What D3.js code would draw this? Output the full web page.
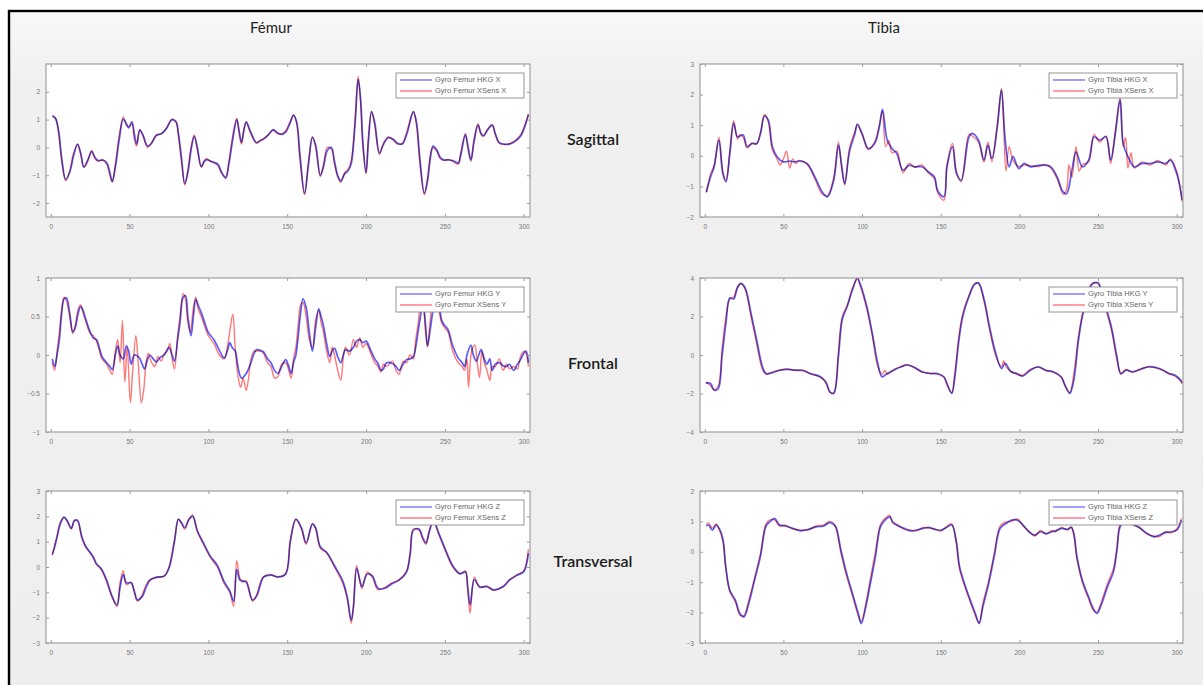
<!DOCTYPE html>
<html>
<head>
<meta charset="utf-8">
<script src="https://cdn.jsdelivr.net/npm/d3@7"></script>
<style>
  html, body { margin: 0; padding: 0; background: #ffffff; }
  svg { display: block; }
</style>
</head>
<body>
<svg id="fig" width="1203" height="685"></svg>
<script>
// ---- Gyroscope angular velocity, HKG sensor vs XSens, by segment and plane ----
// Each series is a list of [sample, value] pairs.

const segments = ["Fémur", "Tibia"];
const planes = ["Sagittal", "Frontal", "Transversal"];
const axesNames = ["X", "Y", "Z"];
const sampleTicks = [0, 50, 100, 150, 200, 250, 300];
const sampleDomain = [-3, 304];

const femurDomains = [[-2.5, 3], [-1, 1], [-3, 3]];
const femurTicks = [[-2, -1, 0, 1, 2], [-1, -0.5, 0, 0.5, 1], [-3, -2, -1, 0, 1, 2, 3]];
const tibiaDomains = [[-2, 3], [-4, 4], [-3, 2]];
const tibiaTicks = [[-2, -1, 0, 1, 2, 3], [-4, -2, 0, 2, 4], [-3, -2, -1, 0, 1, 2]];

const femurXHkg = [[1,1.15],[3,1.05],[5,0.6],[7,-0.4],[9.5,-1.15],[12,-0.9],[14.5,-0.3],[17,0.12],[19,-0.2],[21,-0.7],[23.5,-0.45],[26,-0.15],[28,-0.35],[30,-0.47],[33,-0.45],[35.5,-0.55],[37.5,-0.9],[39,-1.22],[41,-0.7],[43.5,0.3],[46,1.02],[48,0.85],[49.5,0.7],[51.5,0.92],[53,0.5],[54.5,0.12],[56.5,0.62],[58.5,0.45],[61.5,0.05],[64,0.15],[67,0.45],[70,0.48],[73,0.65],[77,1.0],[79.5,0.92],[81,0.5],[83,-0.4],[85,-1.3],[87,-0.9],[89,-0.1],[91,0.4],[93,0.0],[95.5,-0.68],[97.5,-0.5],[99,-0.44],[101,-0.48],[103.5,-0.53],[106,-0.6],[108.5,-0.9],[111,-1.1],[113,-0.6],[115.5,0.3],[118,1.0],[119.5,0.6],[121,0.18],[122.5,0.6],[124,0.92],[126.5,0.6],[130.5,0.18],[133,0.25],[135,0.3],[138,0.45],[141,0.64],[144,0.52],[146.5,0.47],[149,0.55],[152,0.9],[154,1.15],[156,0.92],[158,-0.2],[161,-1.65],[163.5,-0.6],[166,0.35],[168,0.1],[171,-1.0],[173,-0.7],[175.5,-0.1],[178,0.0],[180,-0.5],[182,-1.0],[184,-1.2],[186.5,-0.95],[188.5,-0.85],[190.5,-0.6],[193,0.8],[195,2.45],[196.5,1.8],[198,0.2],[200,-0.9],[201.5,0.2],[203.5,1.28],[205.5,0.9],[208.5,-0.2],[211,0.1],[214,0.35],[217,0.3],[220,0.15],[223,0.12],[226,0.5],[230,1.28],[232,0.9],[234,-0.3],[237,-1.65],[239,-1.2],[241,-0.3],[242.5,0.05],[245,-0.1],[247,-0.35],[249.5,-0.45],[252,-0.45],[255,-0.47],[258.5,-0.56],[260,-0.3],[263,0.45],[264.5,0.1],[266.5,-0.45],[268.5,0.2],[271,0.8],[273,0.5],[274.5,0.42],[277,0.62],[280,0.8],[282,0.5],[284.5,0.17],[288,0.12],[291,0.12],[294,0.2],[298,0.4],[301,0.8],[303,1.18]];
const femurXXsens = [[1,1.1],[3,1.05],[5,0.5],[7,-0.5],[9.5,-1.2],[12,-0.85],[14.5,-0.2],[17,0.1],[19,-0.25],[21,-0.72],[23.5,-0.5],[26,-0.1],[28,-0.4],[30,-0.5],[33,-0.45],[35.5,-0.6],[37.5,-1.0],[39,-1.25],[41,-0.6],[43.5,0.45],[46,1.1],[48,0.8],[49.5,0.75],[51.5,0.85],[53,0.3],[54.5,0.05],[56.5,0.65],[58.5,0.4],[61.5,0.0],[64,0.18],[67,0.42],[70,0.5],[73,0.66],[77,1.02],[79.5,0.9],[81,0.4],[83,-0.55],[85,-1.35],[87,-0.8],[89,0.0],[91,0.45],[93,-0.1],[95.5,-0.72],[97.5,-0.45],[99,-0.4],[101,-0.5],[103.5,-0.55],[106,-0.65],[108.5,-0.95],[111,-1.05],[113,-0.5],[115.5,0.45],[118,1.05],[119.5,0.5],[121,0.12],[122.5,0.65],[124,0.9],[126.5,0.55],[130.5,0.15],[133,0.25],[135,0.32],[138,0.45],[141,0.62],[144,0.5],[146.5,0.48],[149,0.6],[152,0.95],[154,1.18],[156,0.85],[158,-0.4],[161,-1.7],[163.5,-0.5],[166,0.4],[168,0.0],[171,-1.05],[173,-0.6],[175.5,0.0],[178,-0.05],[180,-0.6],[182,-1.05],[184,-1.25],[186.5,-0.9],[188.5,-0.8],[190.5,-0.5],[193,1.0],[195,2.55],[196.5,1.6],[198,0.0],[200,-0.95],[201.5,0.4],[203.5,1.3],[205.5,0.8],[208.5,-0.25],[211,0.15],[214,0.38],[217,0.28],[220,0.12],[223,0.15],[226,0.6],[230,1.3],[232,0.8],[234,-0.5],[237,-1.7],[239,-1.1],[241,-0.2],[242.5,0.0],[245,-0.15],[247,-0.4],[249.5,-0.47],[252,-0.43],[255,-0.5],[258.5,-0.6],[260,-0.2],[263,0.5],[264.5,0.0],[266.5,-0.5],[268.5,0.3],[271,0.85],[273,0.45],[274.5,0.4],[277,0.65],[280,0.82],[282,0.45],[284.5,0.15],[288,0.1],[291,0.14],[294,0.22],[298,0.45],[301,0.85],[303,1.2]];

const femurYHkg = [[1,-0.05],[2.5,-0.15],[4,0.0],[5.5,0.2],[7,0.55],[8.5,0.73],[10,0.74],[12,0.55],[14,0.3],[15.5,0.35],[17.5,0.55],[19,0.63],[20.5,0.58],[22,0.48],[25,0.3],[27,0.22],[29,0.2],[31,0.08],[32.5,-0.02],[35.5,-0.1],[37.5,-0.15],[39,-0.19],[41,0.0],[42.5,0.12],[44,0.0],[46,-0.05],[48,0.12],[49.5,0.05],[51,-0.12],[53,0.0],[56,-0.03],[58,-0.12],[59.5,-0.18],[61.5,-0.05],[63,0.0],[65,-0.05],[67,-0.09],[69.5,-0.03],[72,0.0],[75,0.1],[77,0.0],[78.5,-0.08],[80.5,0.2],[82,0.42],[84,0.75],[85.5,0.77],[87,0.5],[89,0.25],[90.5,0.5],[92,0.72],[93.5,0.65],[95.5,0.55],[98,0.4],[100,0.29],[103.5,0.2],[107,0.06],[110,-0.04],[112,0.05],[113.6,0.16],[115,0.1],[117,0.05],[119,-0.18],[121,-0.3],[124,-0.24],[127,-0.1],[129,0.02],[130.6,0.07],[133,0.06],[135,0.04],[137.5,-0.05],[139.7,-0.1],[142,-0.2],[144,-0.24],[146.5,-0.15],[149,-0.06],[151,-0.15],[152.5,-0.24],[154,-0.1],[155.5,0.0],[157,0.25],[158.5,0.55],[160,0.73],[162,0.62],[164,0.3],[166,0.05],[168,0.35],[170,0.6],[171.5,0.5],[173,0.38],[175,0.15],[177,-0.02],[178.5,0.05],[180,0.09],[182,-0.02],[184,-0.1],[185.5,0.0],[187,0.07],[189.5,0.05],[192,0.1],[194,0.18],[196,0.2],[198,0.16],[200,0.18],[203,0.06],[205.5,-0.05],[207.6,-0.11],[209.5,-0.2],[211,-0.18],[213,-0.1],[216.7,-0.11],[219,-0.15],[221,-0.2],[223.5,-0.12],[225.7,-0.06],[228,-0.05],[230,-0.02],[231.5,0.1],[233,0.3],[234.5,0.5],[236,0.7],[237.5,0.45],[239,0.12],[240.5,0.3],[242.7,0.6],[245,0.77],[246.5,0.65],[248,0.45],[250,0.38],[252,0.33],[255,0.12],[258.5,-0.04],[261,-0.1],[262.5,-0.15],[264,0.0],[266.5,0.13],[268,0.0],[270,-0.08],[271.5,0.0],[273,0.07],[275,-0.05],[276.7,-0.12],[278.5,-0.05],[280,-0.2],[282,-0.12],[284.6,-0.1],[287,-0.14],[289,-0.15],[291,-0.12],[293.6,-0.2],[296,-0.12],[298,-0.06],[300,0.02],[301.5,0.05],[303,-0.1]];
const femurYXsens = [[1,-0.1],[2.5,-0.2],[4,0.05],[5.5,0.3],[7,0.6],[8.5,0.75],[10,0.7],[12,0.5],[14,0.28],[15.5,0.38],[17.5,0.6],[19,0.65],[20.5,0.55],[22,0.45],[25,0.28],[27,0.25],[29,0.18],[31,0.05],[32.5,-0.05],[35.5,-0.12],[37.5,-0.2],[39,-0.25],[41,0.05],[42.5,0.2],[44,-0.1],[45.5,0.45],[47,-0.35],[48.5,0.1],[50.5,-0.62],[52,-0.2],[54,0.25],[55.5,-0.1],[57.5,-0.62],[59,-0.45],[60.5,-0.1],[62,0.02],[64,-0.1],[66,-0.15],[68,-0.02],[70,-0.08],[72,0.02],[74,0.05],[75.5,0.15],[77,-0.05],[78.5,-0.18],[80.5,0.25],[82,0.5],[84,0.8],[85.5,0.72],[87,0.42],[88.5,0.3],[90.5,0.62],[92,0.75],[93.5,0.6],[95.5,0.5],[98,0.35],[100,0.25],[103.5,0.15],[107,0.0],[110,-0.05],[112,0.1],[113.5,0.3],[115.5,0.53],[117,0.1],[119,-0.3],[120.5,-0.42],[122,-0.3],[124,-0.46],[125.5,-0.3],[127,-0.05],[129,0.05],[130.6,0.05],[133,0.05],[135,0.02],[137.5,-0.1],[139.7,-0.15],[142,-0.3],[144,-0.28],[146.5,-0.12],[149,-0.1],[151,-0.2],[152.5,-0.3],[154,-0.05],[155.5,0.1],[157,0.4],[158.5,0.65],[160,0.68],[162,0.5],[164,0.2],[166,0.1],[168,0.45],[170,0.58],[171.5,0.42],[173,0.3],[175,0.05],[177,-0.1],[178.5,0.1],[180,0.0],[182,-0.2],[184,-0.33],[185.5,-0.05],[187,0.1],[189.5,0.0],[192,0.2],[194,0.1],[196,0.22],[198,0.1],[200,0.15],[203,0.02],[205.5,-0.1],[207.6,-0.15],[209.5,-0.22],[211,-0.12],[213,-0.15],[216.7,-0.08],[219,-0.2],[221,-0.25],[223.5,-0.08],[225.7,-0.1],[228,0.0],[230,-0.05],[231.5,0.2],[233,0.4],[234.5,0.62],[236,0.65],[237.5,0.35],[239,0.1],[240.5,0.4],[242.7,0.7],[245,0.72],[246.5,0.55],[248,0.42],[250,0.35],[252,0.3],[255,0.05],[258.5,-0.1],[261,-0.15],[262.5,-0.2],[264,-0.05],[265,-0.42],[267,0.05],[269,0.13],[270.5,-0.1],[272,-0.29],[273.5,0.05],[275,-0.1],[276.7,-0.2],[278.5,-0.33],[280,-0.15],[282,-0.15],[284.6,-0.05],[287,-0.2],[289,-0.12],[291,-0.18],[293.6,-0.15],[296,-0.18],[298,-0.02],[300,0.05],[301.5,0.02],[303,-0.15]];

const femurZHkg = [[1,0.5],[2.5,0.8],[4,1.17],[6,1.69],[8.4,1.97],[10.6,1.82],[13,1.53],[15,1.82],[17,1.85],[19.7,1.2],[22,0.84],[25,0.58],[27,0.4],[29,0.13],[32,-0.06],[35.5,-0.52],[39,-1.17],[42,-1.5],[44,-0.8],[46,-0.3],[48,-0.62],[51,-0.62],[53,-0.95],[55,-1.3],[58,-1.17],[60.5,-0.8],[63,-0.52],[67,-0.4],[72,-0.36],[75,-0.05],[78.5,1.0],[81,1.88],[83,1.75],[85,1.55],[87.6,1.88],[90,2.0],[93,1.43],[96.7,0.97],[101,0.45],[105.7,0.06],[110,-0.58],[113.6,-0.95],[116,-1.35],[118,-0.1],[120,-0.52],[122,-0.55],[124,-0.6],[128,-1.3],[130.6,-1.15],[133,-0.7],[135,-0.4],[139.7,-0.32],[144,-0.39],[149,-0.28],[152,1.0],[155.5,1.88],[159,1.55],[162,0.95],[166,1.69],[168,1.55],[171,0.8],[175,0.58],[180,0.05],[185,-0.52],[188,-1.15],[190.6,-2.1],[192,-1.6],[194,-0.05],[196,-0.5],[197.4,-0.78],[200.8,-0.28],[204,-0.35],[207.6,-0.84],[212,-0.84],[216.7,-0.65],[221,-0.52],[225.7,-0.2],[228,0.5],[230,1.45],[233.6,1.5],[236,1.15],[238,0.95],[240,1.36],[242.7,1.82],[246,1.36],[250.6,0.65],[255,0.05],[259.7,-0.26],[263,-0.2],[264.5,-0.8],[266,-1.5],[268.7,-0.5],[272,-0.78],[276.7,-0.78],[281,-0.9],[287,-0.78],[291,-0.52],[296,-0.32],[300,-0.19],[303,0.55]];
const femurZXsens = [[1,0.45],[2.5,0.85],[4,1.25],[6,1.75],[8.4,1.95],[10.6,1.78],[13,1.5],[15,1.85],[17,1.8],[19.7,1.15],[22,0.8],[25,0.55],[27,0.35],[29,0.1],[32,-0.1],[35.5,-0.6],[39,-1.2],[42,-1.56],[44,-0.6],[46,-0.15],[48,-0.7],[51,-0.6],[53,-1.0],[55,-1.35],[58,-1.1],[60.5,-0.7],[63,-0.5],[67,-0.42],[72,-0.35],[75,0.0],[78.5,1.1],[81,1.9],[83,1.7],[85,1.5],[87.6,1.85],[90,2.05],[93,1.4],[96.7,0.92],[101,0.4],[105.7,0.0],[110,-0.65],[113.6,-1.0],[116,-1.55],[118,0.25],[120,-0.45],[122,-0.6],[124,-0.55],[128,-1.35],[130.6,-1.1],[133,-0.6],[135,-0.38],[139.7,-0.3],[144,-0.4],[149,-0.25],[152,1.1],[155.5,1.9],[159,1.5],[162,0.9],[166,1.72],[168,1.5],[171,0.75],[175,0.55],[180,0.0],[185,-0.6],[188,-1.25],[190.6,-2.22],[192,-1.5],[194,0.05],[196,-0.55],[197.4,-0.85],[200.8,-0.2],[204,-0.4],[207.6,-0.9],[212,-0.8],[216.7,-0.62],[221,-0.5],[225.7,-0.15],[228,0.6],[230,1.5],[233.6,1.45],[236,1.1],[238,0.9],[240,1.4],[242.7,1.85],[246,1.3],[250.6,0.6],[255,0.0],[259.7,-0.28],[263,-0.15],[264.5,-0.9],[266,-1.82],[268.7,-0.4],[272,-0.8],[276.7,-0.75],[281,-0.92],[287,-0.75],[291,-0.5],[296,-0.3],[300,-0.15],[303,0.7]];

const tibiaXHkg = [[1,-1.18],[3.7,-0.69],[6,-0.36],[9,0.51],[11.5,-0.58],[13.5,-0.85],[16,0.08],[18.4,1.06],[20.8,0.62],[22.5,0.65],[24.5,0.68],[27,0.3],[30,0.4],[33,0.4],[35.5,0.73],[38,1.3],[40.4,1.17],[43,0.3],[46,-0.03],[50,-0.2],[54,-0.17],[57,-0.2],[60,-0.17],[65,-0.25],[70,-0.69],[74.7,-1.18],[78,-1.34],[82,-0.8],[85,0.35],[87,-0.3],[89,-0.91],[92,0.13],[95.5,0.73],[97,1.04],[100,0.73],[104,0.24],[108,0.4],[111,0.95],[113,1.52],[116,0.51],[119,0.24],[122,0.08],[126,-0.47],[130,-0.31],[133.5,-0.36],[138,-0.36],[142,-0.52],[146,-0.69],[148,-1.13],[152,-1.34],[154,-0.36],[157.5,0.3],[160,-0.58],[163,-0.8],[168,0.62],[170,0.73],[174,0.51],[177.5,-0.14],[180,0.35],[182.5,-0.09],[186,0.95],[188.6,2.15],[191,0.51],[193.5,-0.36],[196,-0.03],[199.6,-0.42],[203,-0.25],[207,-0.36],[212,-0.31],[216.7,-0.31],[220,-0.36],[224,-0.69],[227.8,-1.18],[230,-1.24],[233.4,-0.47],[236,0.13],[240,-0.36],[244,-0.14],[247.5,0.62],[251,0.51],[255,0.62],[258,-0.14],[261,0.73],[264,1.83],[266,0.4],[269,-0.03],[273,-0.36],[278,-0.25],[283,-0.25],[288,-0.2],[293,-0.25],[296,-0.14],[300,-0.58],[303.5,-1.45]];
const tibiaXXsens = [[1,-1.2],[3.7,-0.6],[6,-0.3],[9,0.6],[11.5,-0.5],[13.5,-0.8],[16,0.2],[18.4,1.15],[20.8,0.55],[22.5,0.7],[24.5,0.6],[27,0.25],[30,0.42],[33,0.38],[35.5,0.8],[38,1.35],[40.4,1.1],[43,0.2],[46,-0.1],[48,-0.3],[50,-0.1],[52,0.15],[54,-0.4],[56,-0.1],[58,-0.25],[60,-0.15],[65,-0.28],[70,-0.75],[74.7,-1.25],[78,-1.3],[82,-0.7],[85,0.45],[87,-0.4],[89,-0.95],[92,0.25],[95.5,0.8],[97,1.0],[100,0.7],[104,0.2],[108,0.45],[111,1.0],[113,1.45],[115,0.3],[117,0.5],[119,0.1],[122,0.15],[124,-0.2],[126,-0.55],[130,-0.25],[133.5,-0.38],[138,-0.3],[142,-0.55],[146,-0.75],[148,-1.2],[152,-1.45],[154,-0.3],[157.5,0.4],[160,-0.5],[163,-0.85],[168,0.7],[170,0.65],[174,0.45],[177.5,-0.2],[180,0.45],[182.5,-0.2],[186,1.05],[188.6,2.2],[190,1.0],[191.5,-0.5],[193.5,0.3],[196,-0.15],[199.6,-0.35],[203,-0.3],[207,-0.32],[212,-0.35],[216.7,-0.28],[220,-0.4],[224,-0.75],[227.8,-1.25],[230,-1.1],[231.5,-0.3],[233.4,-0.7],[236,0.3],[238,-0.5],[240,-0.3],[244,-0.2],[247.5,0.7],[251,0.45],[255,0.65],[258,-0.25],[261,0.8],[264,1.9],[266,0.3],[267.5,0.6],[269,-0.4],[271,0.1],[273,-0.4],[278,-0.2],[283,-0.3],[288,-0.15],[293,-0.3],[296,-0.1],[300,-0.5],[303.5,-1.5]];

const tibiaYHkg = [[0.7,-1.45],[3.7,-1.48],[6,-1.83],[8.6,-1.75],[11,-0.09],[13.5,1.66],[16,2.97],[18.4,2.91],[20.8,3.49],[23,3.72],[25.7,3.49],[29.4,2.18],[33,0.79],[36.7,-0.61],[39,-0.96],[43,-0.92],[47.8,-0.79],[52.7,-0.75],[57.5,-0.79],[62.5,-0.79],[67,-0.96],[73.5,-1.13],[77,-1.4],[79.6,-1.92],[82,-2.0],[85,-0.09],[87.4,1.83],[90.6,2.53],[94,3.4],[97,4.0],[99,3.66],[103,2.53],[106.5,1.13],[110,-0.44],[112.7,-1.13],[116,-0.96],[121,-0.75],[125,-0.61],[128.6,-0.52],[133.5,-0.65],[138,-0.87],[143,-0.96],[148,-0.96],[152,-1.13],[154,-1.48],[157,-2.0],[159,-1.13],[161.6,0.79],[164,2.0],[168,3.05],[171.4,3.66],[174,3.75],[177.6,2.88],[181,1.48],[185,0.09],[188.6,-0.7],[191,-0.44],[194.7,-0.87],[198.4,-0.96],[202,-1.1],[207,-0.79],[212,-0.61],[216.7,-0.79],[221.6,-0.87],[226.5,-1.13],[229.5,-1.66],[232,-2.0],[234.4,-1.4],[237.6,0.79],[240,2.0],[242.5,2.79],[246,3.66],[250,3.75],[253.5,2.88],[258.4,1.48],[262,-0.09],[264.5,-0.96],[268,-0.79],[272,-0.87],[277,-0.75],[282,-0.61],[287,-0.65],[291.4,-0.79],[295,-0.96],[299,-1.05],[302.5,-1.31],[303.5,-1.45]];
const tibiaYXsens = [[0.7,-1.4],[3.7,-1.6],[6,-1.8],[8.6,-1.6],[11,0.3],[13.5,2.0],[16,2.9],[18.4,3.0],[20.8,3.55],[23,3.7],[25.7,3.4],[29.4,2.0],[33,0.6],[36.7,-0.75],[39,-1.0],[43,-0.88],[47.8,-0.78],[52.7,-0.72],[57.5,-0.8],[62.5,-0.82],[67,-0.98],[73.5,-1.15],[77,-1.45],[79.6,-1.95],[82,-1.95],[85,0.2],[87.4,2.0],[90.6,2.6],[94,3.5],[97,3.95],[99,3.55],[103,2.4],[106.5,1.0],[110,-0.6],[112.7,-1.0],[114.5,-0.8],[116,-1.0],[121,-0.72],[125,-0.6],[128.6,-0.5],[133.5,-0.68],[138,-0.88],[143,-0.95],[148,-1.0],[152,-1.15],[154,-1.55],[157,-1.95],[159,-0.9],[161.6,1.0],[164,2.15],[168,3.1],[171.4,3.7],[174,3.7],[177.6,2.75],[181,1.35],[185,-0.05],[188.6,-0.6],[190,-0.3],[191.5,-0.6],[194.7,-0.85],[198.4,-1.0],[202,-1.05],[207,-0.75],[212,-0.63],[216.7,-0.8],[221.6,-0.9],[226.5,-1.15],[229.5,-1.7],[232,-1.95],[234.4,-1.1],[237.6,1.0],[240,2.1],[242.5,2.85],[246,3.7],[250,3.7],[253.5,2.75],[258.4,1.35],[262,-0.25],[264.5,-1.0],[266,-0.85],[268,-0.75],[272,-0.9],[277,-0.72],[282,-0.62],[287,-0.68],[291.4,-0.8],[295,-0.98],[299,-1.1],[302.5,-1.35],[303.5,-1.5]];

const tibiaZHkg = [[1,0.85],[2.4,0.88],[4.9,0.71],[7.3,0.88],[9.8,0.71],[11.7,0.38],[13.4,-0.49],[15.9,-1.26],[19.5,-1.59],[22.4,-2.03],[24.9,-2.14],[28,-1.7],[31.7,-0.93],[35.4,-0.16],[39,0.85],[41.5,0.99],[44.4,1.1],[47.6,0.88],[51,0.85],[56,0.77],[61,0.69],[65.9,0.74],[70.7,0.82],[75.6,0.85],[79.3,0.96],[81.7,0.91],[83.4,0.82],[86.6,0.05],[90.2,-0.71],[93.9,-1.37],[97.6,-2.03],[99.5,-2.36],[102.4,-1.81],[104.9,-1.15],[108.5,-0.16],[111.7,0.82],[114.6,1.04],[117.6,1.15],[119.5,0.99],[123,0.85],[126.8,0.77],[130.5,0.69],[134,0.71],[139,0.77],[142.7,0.8],[146,0.74],[150,0.71],[153.6,0.8],[157,0.88],[159.8,0.38],[162,-0.49],[165.8,-1.15],[168.8,-1.59],[172,-2.03],[174.4,-2.36],[176.8,-1.81],[180.5,-1.04],[184,-0.16],[187.8,0.77],[191.5,0.93],[195,1.04],[198.8,1.04],[202.4,0.88],[206,0.66],[209.8,0.55],[213.4,0.66],[217,0.6],[220.7,0.66],[223,0.69],[226.8,0.77],[230.5,0.74],[233,0.8],[234.6,0.6],[236.6,-0.16],[240,-0.93],[244,-1.48],[247,-1.87],[249.3,-2.03],[252.4,-1.7],[256,-1.15],[259.8,-0.66],[262,0.05],[264,0.82],[267,1.0],[271,0.93],[276,0.8],[280.5,0.63],[285.4,0.49],[289,0.55],[292.7,0.63],[296.3,0.66],[300,0.71],[303,1.04]];
const tibiaZXsens = [[1,0.9],[2.4,0.95],[4.9,0.78],[7.3,0.92],[9.8,0.65],[11.7,0.3],[13.4,-0.55],[15.9,-1.3],[19.5,-1.65],[22.4,-2.08],[24.9,-2.1],[28,-1.6],[31.7,-0.85],[35.4,-0.05],[39,0.92],[41.5,1.05],[44.4,1.05],[47.6,0.85],[51,0.88],[56,0.75],[61,0.72],[65.9,0.72],[70.7,0.85],[75.6,0.88],[79.3,1.0],[81.7,0.95],[83.4,0.78],[86.6,-0.05],[90.2,-0.8],[93.9,-1.45],[97.6,-2.1],[99.5,-2.3],[102.4,-1.7],[104.9,-1.0],[108.5,0.0],[111.7,0.9],[114.6,1.1],[117.6,1.2],[119.5,0.95],[123,0.88],[126.8,0.74],[130.5,0.72],[134,0.68],[139,0.8],[142.7,0.78],[146,0.76],[150,0.68],[153.6,0.82],[157,0.92],[159.8,0.3],[162,-0.58],[165.8,-1.22],[168.8,-1.65],[172,-2.1],[174.4,-2.33],[176.8,-1.7],[180.5,-0.95],[184,-0.05],[187.8,0.85],[191.5,0.98],[195,1.0],[198.8,1.08],[202.4,0.85],[206,0.68],[209.8,0.52],[213.4,0.7],[217,0.58],[220.7,0.7],[223,0.66],[226.8,0.8],[230.5,0.72],[233,0.82],[234.6,0.55],[236.6,-0.25],[240,-1.0],[244,-1.55],[247,-1.92],[249.3,-1.98],[252.4,-1.6],[256,-1.05],[259.8,-0.55],[262,0.15],[264,0.9],[267,1.05],[271,0.9],[276,0.82],[280.5,0.6],[285.4,0.52],[289,0.5],[292.7,0.66],[296.3,0.62],[300,0.75],[303,1.1]];

// ---- Layout ----
const W = 1203, H = 685;
const colX = [[46, 530], [700, 1183]];
const rowY = [[64, 217], [278, 432], [491, 643]];
const blue = "#5c5cff";
const red = "#ff4a4a";

const femurSeries = [[femurXHkg, femurXXsens], [femurYHkg, femurYXsens], [femurZHkg, femurZXsens]];
const tibiaSeries = [[tibiaXHkg, tibiaXXsens], [tibiaYHkg, tibiaYXsens], [tibiaZHkg, tibiaZXsens]];
const legendSegment = ["Femur", "Tibia"];

const panels = [];
for (let r = 0; r < 3; r++) {
  panels.push({ col: 0, row: r, series: femurSeries[r], domain: femurDomains[r], ticks: femurTicks[r], seg: legendSegment[0], axis: axesNames[r] });
  panels.push({ col: 1, row: r, series: tibiaSeries[r], domain: tibiaDomains[r], ticks: tibiaTicks[r], seg: legendSegment[1], axis: axesNames[r] });
}

const svg = d3.select("#fig");

// figure background inside the black frame
svg.append("rect").attr("x", 0).attr("y", 0).attr("width", W).attr("height", H).attr("fill", "#ffffff");
const bgGrad = svg.append("defs").append("linearGradient").attr("id", "bgGrad")
  .attr("x1", 0).attr("y1", 0).attr("x2", 0).attr("y2", 1);
bgGrad.append("stop").attr("offset", "0%").attr("stop-color", "#f8f8f8");
bgGrad.append("stop").attr("offset", "10%").attr("stop-color", "#f0f0f0");
bgGrad.append("stop").attr("offset", "100%").attr("stop-color", "#eeeeee");
svg.append("rect").attr("x", 9).attr("y", 11).attr("width", W + 40).attr("height", H + 40)
  .attr("fill", "url(#bgGrad)").attr("stroke", "#000").attr("stroke-width", 2.4);

// column titles
const titleX = [271, 884];
segments.forEach((s, i) => {
  svg.append("text").attr("x", titleX[i]).attr("y", 33)
    .attr("text-anchor", "middle")
    .attr("font-family", "Lato, 'Open Sans', sans-serif")
    .attr("font-size", 15).attr("fill", "#222").text(s);
});

// plane labels between the columns
const planeY = [141, 365, 563];
planes.forEach((p, i) => {
  svg.append("text").attr("x", 593).attr("y", planeY[i])
    .attr("text-anchor", "middle").attr("dominant-baseline", "middle")
    .attr("font-family", "Lato, 'Open Sans', sans-serif")
    .attr("font-size", 16).attr("font-weight", 600).attr("fill", "#1a1a1a").text(p);
});

const defs = svg.select("defs");

panels.forEach((pn, idx) => {
  const [x0, x1] = colX[pn.col];
  const [y0, y1] = rowY[pn.row];
  const x = d3.scaleLinear().domain(sampleDomain).range([x0, x1]);
  const y = d3.scaleLinear().domain(pn.domain).range([y1, y0]);
  const g = svg.append("g");

  g.append("rect").attr("x", x0).attr("y", y0).attr("width", x1 - x0).attr("height", y1 - y0)
    .attr("fill", "#ffffff");

  const clipId = "clip" + idx;
  defs.append("clipPath").attr("id", clipId)
    .append("rect").attr("x", x0).attr("y", y0).attr("width", x1 - x0).attr("height", y1 - y0);

  const line = d3.line()
    .x(d => x(d[0])).y(d => y(d[1]))
    .curve(d3.curveCatmullRom.alpha(0.5));

  const plot = g.append("g").attr("clip-path", `url(#${clipId})`).style("isolation", "isolate");
  plot.append("path").datum(pn.series[0]).attr("d", line)
    .attr("fill", "none").attr("stroke", blue).attr("stroke-width", 1.7)
    .attr("stroke-linejoin", "round");
  plot.append("path").datum(pn.series[1]).attr("d", line)
    .attr("fill", "none").attr("stroke", red).attr("stroke-width", 1.4)
    .attr("stroke-linejoin", "round").style("mix-blend-mode", "multiply").attr("opacity", 0.75);

  // axes with inward ticks on all four sides
  const tickStyle = sel => {
    sel.select(".domain").remove();
    sel.selectAll(".tick line").attr("stroke", "#9a9a9a");
    sel.selectAll(".tick text").attr("fill", "#777")
      .attr("font-family", "'Liberation Sans', Arial, sans-serif").attr("font-size", 6.5);
  };
  g.append("g").attr("transform", `translate(0,${y1})`)
    .call(d3.axisBottom(x).tickValues(sampleTicks).tickSize(-3).tickPadding(7).tickFormat(d3.format("d")))
    .call(tickStyle);
  g.append("g").attr("transform", `translate(0,${y0})`)
    .call(d3.axisTop(x).tickValues(sampleTicks).tickSize(-3).tickFormat(""))
    .call(tickStyle);
  g.append("g").attr("transform", `translate(${x0},0)`)
    .call(d3.axisLeft(y).tickValues(pn.ticks).tickSize(-3).tickPadding(6).tickFormat(d3.format("")))
    .call(tickStyle);
  g.append("g").attr("transform", `translate(${x1},0)`)
    .call(d3.axisRight(y).tickValues(pn.ticks).tickSize(-3).tickFormat(""))
    .call(tickStyle);

  g.append("rect").attr("x", x0).attr("y", y0).attr("width", x1 - x0).attr("height", y1 - y0)
    .attr("fill", "none").attr("stroke", "#a0a0a0").attr("stroke-width", 1.2);

  // legend box
  const lw = 128, lh = 25;
  const lx = x1 - 6 - lw, ly = y0 + 9;
  const lg = g.append("g");
  lg.append("rect").attr("x", lx).attr("y", ly).attr("width", lw).attr("height", lh)
    .attr("fill", "#ffffff").attr("stroke", "#8a8a8a").attr("stroke-width", 0.9);
  const names = [`Gyro ${pn.seg} HKG ${pn.axis}`, `Gyro ${pn.seg} XSens ${pn.axis}`];
  const colors = ["#6a6aff", "#ff6a7a"];
  names.forEach((n, k) => {
    const yy = ly + 7 + k * 11;
    lg.append("line").attr("x1", lx + 4).attr("x2", lx + 36).attr("y1", yy).attr("y2", yy)
      .attr("stroke", colors[k]).attr("stroke-width", 1.3);
    lg.append("text").attr("x", lx + 39).attr("y", yy).attr("dominant-baseline", "middle")
      .attr("font-family", "'Liberation Sans', Arial, sans-serif").attr("font-size", 7.5)
      .attr("fill", "#666").text(n);
  });
});
</script>
</body>
</html>
